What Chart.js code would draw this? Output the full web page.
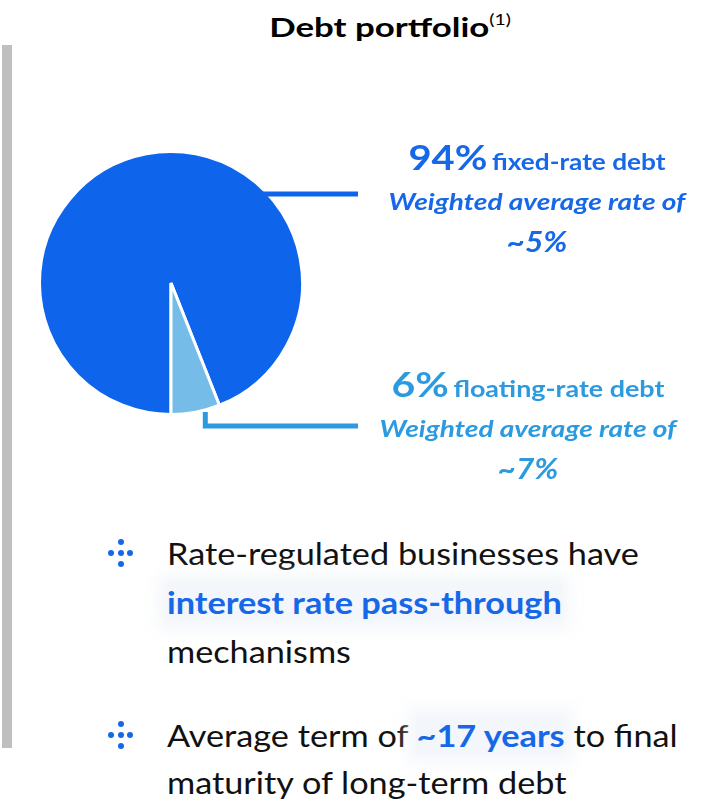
<!DOCTYPE html>
<html lang="en">
<head>
    <meta charset="UTF-8">
    <title>Debt portfolio</title>
    <script src="https://cdn.jsdelivr.net/npm/chart.js"></script>
    <style>
        body { margin: 0; background: #fff; font-family: Lato, "Liberation Sans", sans-serif; }
        #page { position: relative; width: 718px; height: 807px; overflow: hidden; }
        #title { position: absolute; left: 190px; width: 400px; top: 10px; text-align: center; font-size: 27px; font-weight: bold; color: #000; transform: scaleX(1.29); transform-origin: 50% 50%; }
        #title sup { font-size: 15px; font-weight: normal; vertical-align: 12px; line-height: 0; }
        #bar { position: absolute; left: 2px; top: 45px; width: 10px; height: 703px; background: #bfbfbf; }
        #chartBox { position: absolute; left: 38px; top: 150px; width: 330px; height: 290px; }
        .lbl { position: absolute; width: 360px; text-align: center; font-weight: bold; }
        .lbl div { white-space: nowrap; transform-origin: 50% 50%; }
        .row1 { line-height: 50px; height: 50px; }
        .big { font-size: 35px; }
        .mid { font-size: 23px; }
        .it { font-style: italic; font-size: 23px; line-height: 40px; transform: scaleX(1.22); }
        .tilde { font-style: italic; font-size: 28px; line-height: 40px; transform: scaleX(1.13); }
        .bullets { position: absolute; left: 0; width: 718px; font-size: 31px; color: #111; line-height: 48px; }
        .bullets .txt { position: absolute; left: 167px; white-space: nowrap; transform: scaleX(1.105); transform-origin: 0 50%; }
        .hl { color: #1668e8; font-weight: bold; background: rgba(238,242,248,0.7); box-shadow: 0 0 14px 8px rgba(238,242,248,0.7); }
        .icon { position: absolute; left: 108px; width: 26px; height: 26px; }
        .icon i { position: absolute; width: 6px; height: 6px; border-radius: 50%; background: #1668e8; }
    </style>
</head>
<body>
<div id="page">
    <div id="title">Debt portfolio<sup>(1)</sup></div>
    <div id="bar"></div>
    <div id="chartBox"><canvas id="pie"></canvas></div>

    <div class="lbl" id="lblFixed" style="left:357px; top:131px; color:#1668e8;">
        <div class="row1" style="transform: scaleX(1.14);"><span class="big">94%</span> <span class="mid">fixed-rate debt</span></div>
        <div class="it" id="fixedRow">Weighted average rate of</div>
        <div class="tilde">~5%</div>
    </div>
    <div class="lbl" id="lblFloat" style="left:348px; top:358px; color:#2c9ae0;">
        <div class="row1" style="transform: scaleX(1.17);"><span class="big">6%</span> <span class="mid">floating-rate debt</span></div>
        <div class="it" id="floatRow">Weighted average rate of</div>
        <div class="tilde">~7%</div>
    </div>

    <div class="bullets" style="top:529px;">
        <div class="icon" style="top:0px;"><i style="left:10px;top:10px"></i><i style="left:0;top:21px"></i><i style="left:10px;top:21px"></i><i style="left:19px;top:21px"></i><i style="left:10px;top:32px"></i></div>
        <div class="txt" style="top:0px;">Rate-regulated businesses have</div>
        <div class="txt" style="top:49px;"><span class="hl">interest rate pass-through</span></div>
        <div class="txt" style="top:98px;">mechanisms</div>
    </div>
    <div class="bullets" style="top:711px;">
        <div class="icon" style="top:0px;"><i style="left:10px;top:10px"></i><i style="left:0;top:21px"></i><i style="left:10px;top:21px"></i><i style="left:19px;top:21px"></i><i style="left:10px;top:32px"></i></div>
        <div class="txt" style="top:0px;">Average term of <span class="hl">~17 years</span> to final</div>
        <div class="txt" style="top:47px;">maturity of long-term debt</div>
    </div>
</div>

<script>
    // data
    const categories = ['Fixed-rate debt', 'Floating-rate debt'];
    const shares = [94, 6];
    const rates = ['~5%', '~7%'];
    const sliceColors = ['#0e64ea', '#75bde8'];
    const lineColors = ['#0e64ea', '#2c9ae0'];

    // leader lines from the slices to the text blocks
    const leaderLines = {
        id: 'leaderLines',
        afterDraw(chart) {
            const ctx = chart.ctx;
            const arcs = chart.getDatasetMeta(0).data;
            const box = chart.canvas.getBoundingClientRect();
            const fixedRow = document.getElementById('fixedRow').getBoundingClientRect();
            const floatRow = document.getElementById('floatRow').getBoundingClientRect();
            const endX = chart.chartArea.right + 54;

            ctx.save();
            ctx.lineWidth = 5;
            ctx.lineCap = 'butt';

            // fixed: horizontal line entering the pie on the right
            const a0 = arcs[0];
            const y0 = fixedRow.top + fixedRow.height / 2 - box.top - 7;
            const dy = y0 - a0.y;
            const xEdge = a0.x + Math.sqrt(a0.outerRadius * a0.outerRadius - dy * dy);
            ctx.strokeStyle = lineColors[0];
            ctx.beginPath();
            ctx.moveTo(xEdge - 12, y0);
            ctx.lineTo(endX, y0);
            ctx.stroke();

            // floating: down from the slice edge, then right
            const a1 = arcs[1];
            const ang = a1.startAngle + 0.3 * (a1.endAngle - a1.startAngle);
            const px = a1.x + a1.outerRadius * Math.cos(ang);
            const py = a1.y + a1.outerRadius * Math.sin(ang) + 2;
            const y1 = floatRow.top + floatRow.height / 2 - box.top - 2;
            ctx.strokeStyle = lineColors[1];
            ctx.beginPath();
            ctx.moveTo(px, py);
            ctx.lineTo(px, y1);
            ctx.lineTo(endX, y1);
            ctx.stroke();
            ctx.restore();
        }
    };

    new Chart(document.getElementById('pie').getContext('2d'), {
        type: 'pie',
        data: {
            labels: categories,
            datasets: [{
                data: shares,
                backgroundColor: sliceColors,
                borderColor: '#ffffff',
                borderWidth: 3
            }]
        },
        options: {
            responsive: true,
            maintainAspectRatio: false,
            animation: false,
            events: [],
            rotation: 180,
            layout: { padding: { right: 64, bottom: 24 } },
            plugins: {
                legend: { display: false },
                tooltip: { enabled: false }
            }
        },
        plugins: [leaderLines]
    });
</script>
</body>
</html>
